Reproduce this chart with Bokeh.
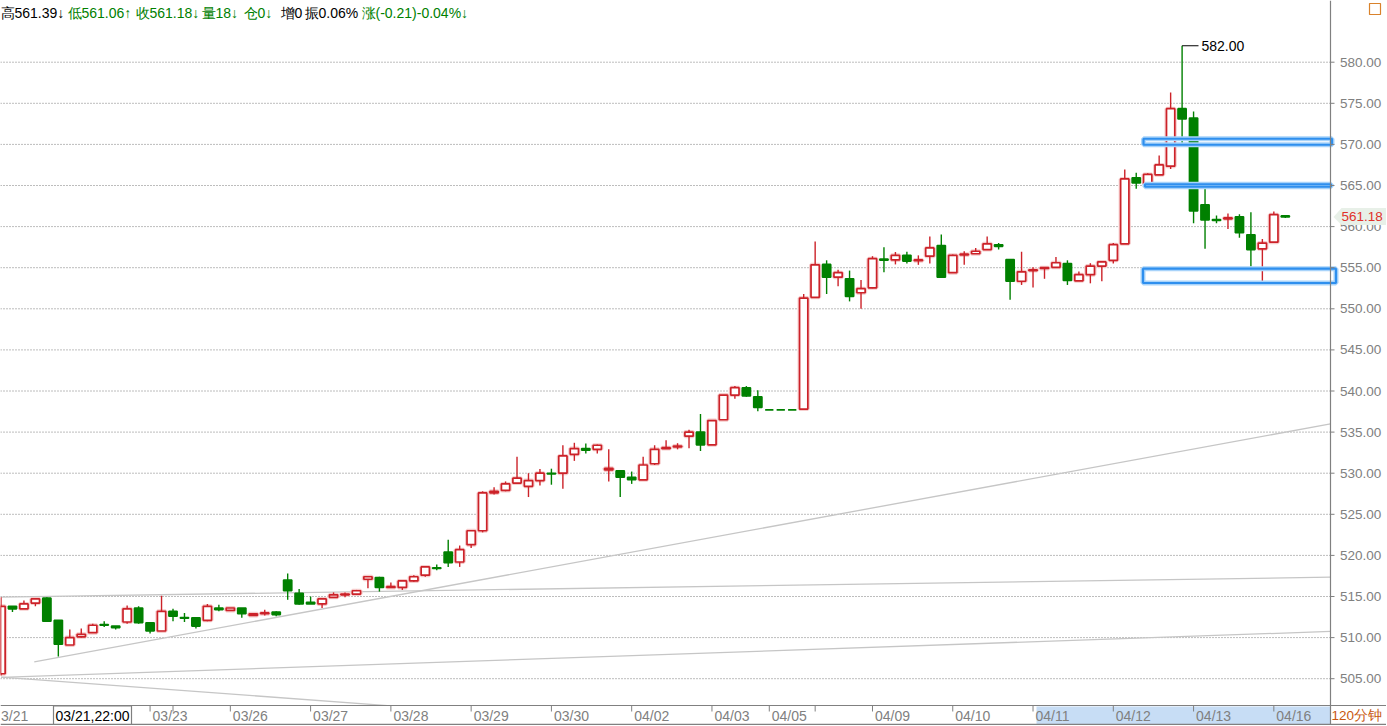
from bokeh.plotting import figure
from bokeh.models import Range1d, ColumnDataSource
from bokeh.embed import file_html
from bokeh.resources import INLINE
from bokeh.core.properties import value

# ---------------- data (120-minute bars) ----------------
opens = [505.6, 513.8, 513.5, 514.2, 514.8, 512.1, 509.1, 510.1, 510.6, 511.6,
         511.4, 511.9, 513.6, 511.8, 510.8, 513.2, 512.45, 512.4, 512.1, 513.6,
         513.3, 513.6, 512.7, 512.9, 513.1, 517.0, 515.4, 514.3, 514.1, 514.9,
         515.2, 515.3, 517.1, 517.3, 516.1, 516.1, 516.9, 517.6, 518.5, 520.4,
         519.2, 521.3, 523.0, 527.6, 527.9, 528.8, 528.4, 529.1, 530.0, 530.0,
         532.3, 533.0, 532.9, 530.4, 530.3, 529.5, 529.2, 531.15, 533.0, 533.2,
         534.5, 535.0, 533.45, 536.5, 539.5, 540.4, 539.3, 537.7, 537.7, 537.7,
         537.8, 551.4, 555.4, 553.85, 553.65, 551.95, 552.55, 556.05, 555.95, 556.5,
         555.85, 556.4, 557.7, 554.4, 556.55, 556.7, 557.2, 557.8, 556.0, 553.35,
         554.65, 554.9, 555.05, 555.5, 553.4, 554.15, 555.2, 555.9, 557.9, 565.95,
         565.2, 566.3, 567.35, 574.35, 573.2, 562.65, 560.85, 560.95, 561.2, 559.0,
         557.3, 558.1, 561.3]
highs = [514.9, 513.8, 514.5, 514.8, 514.9, 512.1, 511.0, 511.1, 511.7, 512.0,
         511.4, 513.9, 513.8, 511.9, 515.1, 513.5, 513.0, 512.5, 514.1, 514.0,
         513.6, 513.6, 512.9, 513.4, 513.2, 517.8, 515.9, 515.0, 514.7, 515.5,
         515.5, 515.8, 517.4, 517.4, 516.7, 517.0, 517.6, 518.7, 518.9, 521.9,
         521.2, 523.0, 527.8, 528.3, 529.0, 532.0, 530.0, 530.5, 530.55, 533.4,
         533.7, 533.6, 533.5, 532.9, 530.3, 530.2, 532.0, 533.4, 534.0, 533.65,
         535.3, 537.2, 536.4, 539.5, 540.6, 540.6, 540.1, 537.7, 537.7, 537.7,
         551.8, 558.2, 555.9, 554.75, 554.65, 553.5, 556.4, 557.5, 556.9, 556.95,
         556.5, 558.8, 559.05, 556.6, 557.0, 557.4, 558.8, 558.0, 556.0, 556.95,
         555.05, 555.0, 556.3, 555.9, 554.55, 555.55, 555.7, 558.0, 566.95, 566.55,
         566.5, 568.65, 576.3, 582.0, 574.0, 565.0, 561.35, 561.6, 561.5, 561.75,
         558.5, 561.85, 561.39]
lows = [505.4, 513.1, 513.5, 513.8, 511.9, 507.7, 509.1, 510.0, 510.6, 511.3,
        511.0, 511.7, 511.7, 510.5, 510.8, 512.0, 511.9, 511.1, 512.0, 513.2,
        513.3, 512.4, 512.7, 512.7, 512.6, 514.6, 514.0, 514.1, 513.6, 514.9,
        514.9, 515.2, 516.0, 515.6, 516.1, 515.8, 516.8, 517.4, 518.2, 518.6,
        518.6, 520.9, 522.8, 527.4, 527.8, 528.8, 527.1, 528.5, 528.6, 528.1,
        531.5, 532.4, 532.4, 529.0, 527.1, 528.7, 529.2, 531.0, 533.0, 532.9,
        533.05, 532.7, 533.45, 536.5, 539.05, 539.3, 537.55, 537.7, 537.7, 537.7,
        537.8, 551.4, 551.8, 552.75, 550.9, 550.0, 552.5, 554.45, 555.4, 555.5,
        555.35, 555.5, 553.8, 554.4, 555.35, 556.7, 557.2, 557.2, 551.1, 552.9,
        552.6, 553.65, 555.0, 552.9, 553.4, 553.1, 553.35, 555.5, 557.9, 564.6,
        564.8, 566.3, 567.0, 570.1, 560.4, 557.3, 560.4, 559.7, 558.65, 555.15,
        553.05, 558.1, 561.06]
closes = [513.8, 513.5, 514.1, 514.7, 512.0, 509.2, 510.0, 510.4, 511.5, 511.5,
          511.2, 513.5, 511.8, 510.8, 513.2, 512.6, 512.35, 511.4, 513.8, 513.4,
          513.6, 512.9, 512.9, 513.0, 512.8, 515.7, 514.1, 514.1, 514.7, 515.2,
          515.3, 515.7, 517.4, 516.1, 516.2, 516.9, 517.4, 518.6, 518.4, 519.1,
          520.7, 523.0, 527.6, 527.8, 528.7, 529.4, 529.1, 530.0, 529.9, 532.1,
          533.0, 532.8, 533.4, 530.6, 529.5, 529.2, 531.0, 532.9, 533.1, 533.3,
          535.0, 533.45, 536.4, 539.5, 540.4, 539.4, 538.0, 537.7, 537.7, 537.7,
          551.3, 555.35, 553.85, 554.4, 551.5, 552.45, 556.1, 555.9, 556.5, 555.8,
          555.95, 557.4, 553.85, 556.5, 556.65, 557.0, 557.9, 557.6, 553.35, 554.5,
          554.75, 555.0, 555.6, 553.45, 554.15, 555.2, 555.7, 557.8, 565.8, 565.3,
          566.35, 567.5, 574.35, 573.1, 561.9, 560.8, 560.75, 561.05, 559.25, 557.2,
          558.0, 561.45, 561.18]

date_tick_pos = [13, 15, 20, 27, 34, 41, 48, 55, 62, 67, 71, 76, 83, 90, 97, 104, 111]
date_tick_labels = ["03/23", "", "03/26", "03/27", "03/28", "03/29", "03/30", "04/02",
                    "04/03", "04/05", "", "04/09", "04/10", "04/11", "04/12", "04/13", "04/16"]
first_date_label = "3/21"
price_ticks = [505, 510, 515, 520, 525, 530, 535, 540, 545, 550, 555, 560, 565, 570, 575, 580]

trend_x0 = [2.9, 0.0, 0.0, 0.0]
trend_y0 = [507.05, 514.93, 505.15, 505.2]
trend_x1 = [115.94, 115.94, 115.94, 34.0]
trend_y1 = [536.0, 517.35, 510.75, 501.7]

zone_bottom = [569.96, 564.85, 553.14]
zone_top = [570.69, 565.15, 554.88]

last_price = 561.18
peak_price = 582.00
peak_bar = 103
cursor_label = "03/21,22:00"
period_label = "120分钟"
header_texts = ["高561.39↓", "低561.06↑", "收561.18↓", "量18↓", "仓0↓", "增0", "振0.06%", "涨(-0.21)-0.04%↓"]

# ---------------- layout helpers (pixel -> data) ----------------
W, H = 1386, 725
XS, X0 = 11.467, 0.5      # px per bar, px of bar 0
YS, Y580 = 8.22, 61.7     # px per price unit, px of 580


def kx(px):
    return (px - X0) / XS


def py(px):
    return 580 - (px - Y580) / YS


RED = "#cc2229"
GREEN = "#008000"
GRAY = "#808080"
FONT = value("Liberation Sans")

p = figure(width=W, height=H, output_backend="svg", toolbar_location=None,
           x_range=Range1d(kx(0), kx(W)), y_range=Range1d(py(H), py(0)),
           x_axis_location=None, y_axis_location=None,
           min_border=0)
p.outline_line_color = None
p.background_fill_color = "white"
p.border_fill_color = "white"
p.grid.visible = False

AX = kx(1330)
nt = len(price_ticks)
# dotted price gridlines
p.segment(x0=[kx(0)] * nt, y0=price_ticks, x1=[AX] * nt, y1=price_ticks,
          line_color="#7a7a7a", line_dash="1 2", line_width=1)

# trend lines
p.segment(x0=trend_x0, y0=trend_y0, x1=trend_x1, y1=trend_y1,
          line_color="#c6c6c6", line_width=1.3)

# candles
n = len(opens)
up = [closes[i] > opens[i] for i in range(n)]


def src(flag):
    idx = [i for i in range(n) if up[i] == flag]
    return ColumnDataSource(dict(
        x=idx,
        high=[highs[i] for i in idx], low=[lows[i] for i in idx],
        top=[max(opens[i], closes[i]) for i in idx],
        bottom=[min(opens[i], closes[i]) for i in idx]))


s_up = src(True)
s_dn = src(False)
p.vbar(x="x", width=0.72, top="top", bottom="bottom", source=s_up,
       fill_color=None, line_color="#f6cccc", line_width=4)
p.segment(x0="x", y0="low", x1="x", y1="high", source=s_up, line_color=RED, line_width=1.4)
p.segment(x0="x", y0="low", x1="x", y1="high", source=s_dn, line_color=GREEN, line_width=1.4)
p.vbar(x="x", width=0.72, top="top", bottom="bottom", source=s_up,
       fill_color="white", line_color=RED, line_width=1.7)
p.vbar(x="x", width=0.72, top="top", bottom="bottom", source=s_dn,
       fill_color=GREEN, line_color=GREEN, line_width=1.6)

# highlight zones
zl = [kx(1143), kx(1144.5), kx(1142.5)]
zr = [kx(1331.5), kx(1330.5), kx(1335.5)]
p.quad(left=zl, right=zr, top=zone_top, bottom=zone_bottom,
       fill_color=None, line_color="#a8d3fa", line_width=5)
p.quad(left=zl, right=zr, top=zone_top, bottom=zone_bottom,
       fill_color=None, line_color="#2e8fee", line_width=2.2)

# peak marker
p.segment(x0=[peak_bar], y0=[peak_price], x1=[kx(1198)], y1=[peak_price],
          line_color="black", line_width=1)
p.text(x=[kx(1201)], y=[peak_price], text=["%.2f" % peak_price],
       text_font=FONT, text_font_size="14px", text_color="black",
       text_baseline="middle", text_align="left")

# bottom date band
p.quad(left=[kx(-5)], right=[kx(W + 5)], top=[py(705)], bottom=[py(H + 5)],
       fill_color="white", line_color=None)
p.quad(left=[kx(1036)], right=[kx(1329.5)], top=[py(706)], bottom=[py(723.5)],
       fill_color="#c7ddf5", line_color=None)
p.segment(x0=[kx(0), kx(0)], y0=[py(705), py(723.8)], x1=[kx(W), kx(W)], y1=[py(705), py(723.8)],
          line_color=GRAY, line_width=1.2)
nd = len(date_tick_pos)
p.segment(x0=date_tick_pos, y0=[py(705)] * nd, x1=date_tick_pos, y1=[py(711)] * nd,
          line_color=GRAY, line_width=1)
p.text(x=date_tick_pos, y=[py(715)] * nd, text=date_tick_labels,
       x_offset=2.5, text_font=FONT, text_font_size="14px", text_color=GRAY,
       text_baseline="middle", text_align="left")
p.text(x=[kx(0.5)], y=[py(715)], text=[first_date_label],
       text_font=FONT, text_font_size="14px", text_color=GRAY,
       text_baseline="middle", text_align="left")
# cursor box
p.quad(left=[kx(53)], right=[kx(131)], top=[py(705.5)], bottom=[py(723.8)],
       fill_color="white", line_color=GRAY, line_width=1.2)
p.text(x=[kx(55)], y=[py(715)], text=[cursor_label],
       text_font=FONT, text_font_size="14px", text_color="black",
       text_baseline="middle", text_align="left")

# price scale on the right
p.segment(x0=[AX], y0=[py(0)], x1=[AX], y1=[py(H)], line_color=GRAY, line_width=1.2)
p.segment(x0=[AX] * nt, y0=price_ticks, x1=[kx(1334)] * nt, y1=price_ticks,
          line_color=GRAY, line_width=1)
p.text(x=[kx(1339.5)] * nt, y=price_ticks, text=["%.2f" % t for t in price_ticks],
       text_font=FONT, text_font_size="13.5px", text_color=GRAY,
       text_baseline="middle", text_align="left")

# last price tag
tag_y0, tag_y1 = py(207.5), py(224.5)
p.patch(x=[kx(1333), kx(1341), kx(W), kx(W), kx(1341)],
        y=[last_price, tag_y0, tag_y0, tag_y1, tag_y1],
        fill_color="#e8f0e8", line_color=None)
p.text(x=[kx(1341)], y=[last_price], text=["%.2f" % last_price],
       text_font=FONT, text_font_size="13.5px", text_color="#e0302a",
       text_baseline="middle", text_align="left")

# period label
p.text(x=[kx(1331)], y=[py(715)], text=[period_label],
       text_font=FONT, text_font_size="13.5px", text_color="#c8580f",
       text_baseline="middle", text_align="left")

# top-right small icon
p.quad(left=[kx(1369)], right=[kx(1380)], top=[py(3)], bottom=[py(14)],
       fill_color="white", line_color="#d9822b", line_width=1.2)

# header line
hdr_px = [0, 67, 135, 201, 243, 280, 304, 361]
hdr_col = ["black", GREEN, GREEN, GREEN, GREEN, "black", "black", GREEN]
p.text(x=[kx(v) for v in hdr_px], y=[py(12)] * len(hdr_px), text=header_texts,
       text_color=hdr_col, text_font=FONT, text_font_size="14px",
       text_baseline="middle", text_align="left")

open("out.html", "w").write(file_html(p, INLINE))
